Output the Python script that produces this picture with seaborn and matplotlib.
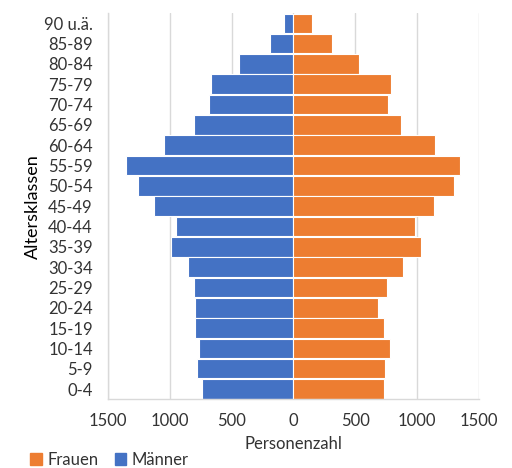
import numpy as np
import pandas as pd
import matplotlib
matplotlib.use("Agg")
import matplotlib.pyplot as plt
import seaborn as sns
from matplotlib.ticker import FuncFormatter
from matplotlib.patches import Patch

altersklassen = ['90 u.ä.', '85-89', '80-84', '75-79', '70-74', '65-69', '60-64',
                 '55-59', '50-54', '45-49', '40-44', '35-39', '30-34', '25-29',
                 '20-24', '15-19', '10-14', '5-9', '0-4']
maenner = [76, 189, 442, 663, 682, 803, 1049, 1351, 1259, 1127, 946, 992,
           852, 803, 795, 798, 760, 782, 739]
frauen = [148, 315, 531, 790, 763, 871, 1146, 1348, 1297, 1138, 984, 1030,
          884, 760, 682, 733, 785, 741, 733]

blau = '#4472C4'
orange = '#ED7D31'
grau = '#D9D9D9'
text = '#333333'

sns.set_style("white")
plt.rcParams['font.family'] = ['Lato', 'DejaVu Sans']

df = pd.DataFrame({'Alter': altersklassen,
                   'Männer': [-m for m in maenner],
                   'Frauen': frauen})

fig = plt.figure(figsize=(5.12, 4.68), dpi=100)
ax = fig.add_axes([0.211, 0.147, 0.724, 0.825])

sns.barplot(data=df, x='Männer', y='Alter', order=altersklassen, color=blau,
            saturation=1, width=0.96, edgecolor='white', linewidth=0.8, ax=ax)
sns.barplot(data=df, x='Frauen', y='Alter', order=altersklassen, color=orange,
            saturation=1, width=0.96, edgecolor='white', linewidth=0.8, ax=ax)

ax.set_xlim(-1500, 1500)
ax.set_xticks([-1500, -1000, -500, 0, 500, 1000, 1500])
ax.xaxis.set_major_formatter(FuncFormatter(lambda v, p: f"{abs(int(v))}"))
ax.grid(axis='x', color=grau, linewidth=1)
ax.set_axisbelow(True)
for s in ['top', 'right']:
    ax.spines[s].set_visible(False)
for s in ['left', 'bottom']:
    ax.spines[s].set_color(grau)
    ax.spines[s].set_linewidth(1)
ax.tick_params(axis='both', length=0, labelsize=12, colors=text)
ax.tick_params(axis='x', pad=10)
ax.tick_params(axis='y', pad=11)
ax.set_xlabel('Personenzahl', fontsize=12, color=text, labelpad=5)
ax.set_ylabel('Altersklassen', fontsize=13, color='black', labelpad=2)

handles = [Patch(color=orange, label='Frauen'), Patch(color=blau, label='Männer')]
fig.legend(handles=handles, loc='lower left', bbox_to_anchor=(0.03, -0.031),
           ncol=2, frameon=False, fontsize=12, handlelength=0.7,
           handleheight=0.7, handletextpad=0.3, columnspacing=1.0,
           labelcolor=text)

fig.savefig('out.png', dpi=100)
